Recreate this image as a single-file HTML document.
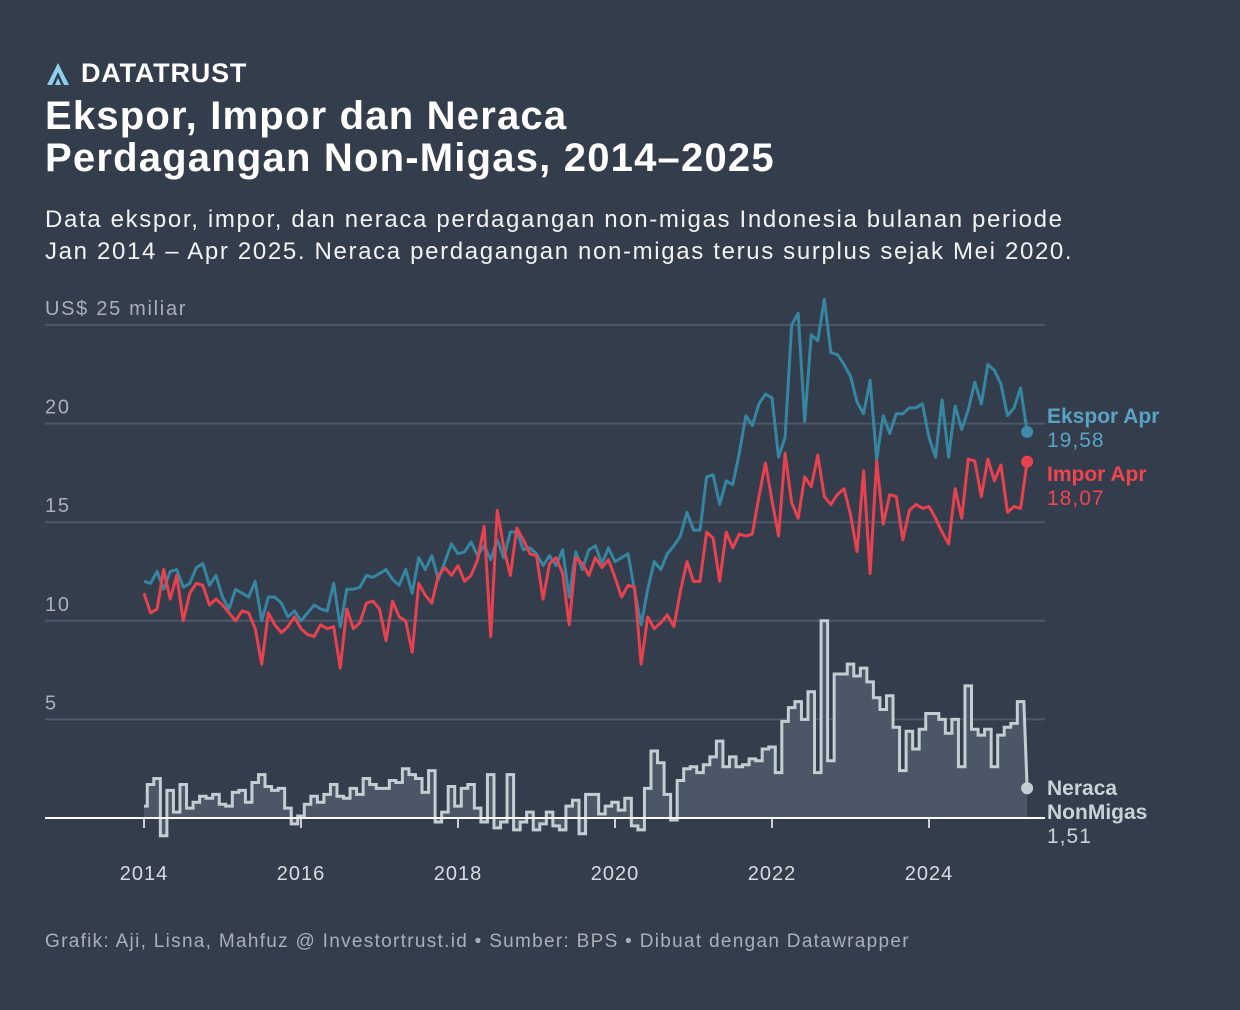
<!DOCTYPE html>
<html><head><meta charset="utf-8">
<style>
body{margin:0;background:#333d4c;width:1240px;height:1010px;overflow:hidden;font-family:"Liberation Sans",sans-serif;color:#fff}
.h{position:absolute;left:45px;white-space:nowrap}
</style></head><body>
<div class="h" style="top:58px;font-weight:bold;font-size:27px;color:#fff;display:flex;align-items:center;gap:10px;letter-spacing:0.8px">
<svg width="26" height="24" viewBox="0 0 26 24"><path d="M2 23 L13 1 L24 23 L19 23 L13 10 L7 23Z" fill="#8fd0ea"/><path d="M10 23 L13 16 L16 23Z" fill="#8fd0ea"/></svg>DATATRUST</div>
<div class="h" style="top:95px;font-weight:bold;font-size:40px;line-height:42px;letter-spacing:1.2px">Ekspor, Impor dan Neraca<br>Perdagangan Non-Migas, 2014–2025</div>
<div class="h" style="top:204px;font-size:24px;line-height:32px;color:#f2f2f2;letter-spacing:1.65px">Data ekspor, impor, dan neraca perdagangan non-migas Indonesia bulanan periode<br>Jan 2014 – Apr 2025. Neraca perdagangan non-migas terus surplus sejak Mei 2020.</div>
<svg id="c" width="1240" height="1010" style="position:absolute;left:0;top:0"></svg>
<div class="h" style="top:931px;font-size:19px;color:#aab0b8;letter-spacing:1.3px">Grafik: Aji, Lisna, Mahfuz @ Investortrust.id • Sumber: BPS • Dibuat dengan Datawrapper</div>
<script>
const ekspor=[12.0,11.9,12.5,11.6,12.5,12.6,11.7,11.9,12.7,12.9,11.8,12.3,
11.2,10.6,11.6,11.4,11.2,12.0,10.0,11.2,11.2,10.9,10.2,10.5,
10.0,10.4,10.8,10.6,10.5,11.9,9.7,11.6,11.6,11.7,12.3,12.2,
12.4,12.6,12.1,11.8,12.6,11.4,13.2,12.6,13.3,12.1,13.0,13.9,
13.4,13.5,14.0,13.3,13.8,13.1,14.1,13.2,14.5,14.5,13.6,13.7,
13.4,12.8,13.3,12.8,13.6,11.2,13.5,12.6,13.6,13.8,12.9,13.7,
13.0,13.2,13.4,11.5,9.8,11.6,13.0,12.6,13.4,13.8,14.3,15.5,
14.6,14.6,17.3,17.4,15.9,17.1,16.9,18.5,20.4,19.9,21.0,21.5,
21.3,18.3,19.3,25.0,25.6,20.1,24.5,24.2,26.3,23.6,23.5,23.0,
22.4,21.1,20.5,22.2,18.2,20.4,19.5,20.5,20.5,20.8,20.8,21.0,
19.3,18.3,21.2,18.3,20.9,19.7,20.7,22.1,21.0,23.0,22.7,22.0,
20.4,20.8,21.8,19.58];
const impor=[11.4,10.4,10.6,12.6,11.1,12.3,10.0,11.4,11.9,11.8,10.8,11.1,
10.8,10.4,10.0,10.5,10.4,9.6,7.8,10.4,9.8,9.4,9.7,10.2,
9.6,9.3,9.2,9.8,9.6,9.7,7.6,10.6,9.6,9.9,10.9,11.0,
10.6,9.0,11.0,10.2,10.0,8.4,11.9,11.3,10.9,12.3,12.7,12.3,
12.8,12.0,12.3,13.1,14.8,9.2,15.6,13.7,12.3,14.7,14.1,13.4,
13.3,11.1,12.9,13.2,12.4,9.8,13.2,12.9,12.3,13.2,12.7,13.1,
12.2,11.2,11.8,11.7,7.8,10.2,9.6,9.9,10.3,9.7,11.5,13.0,
12.0,12.0,14.5,14.2,12.0,14.5,13.7,14.4,14.3,14.4,16.3,18.0,
16.1,14.3,18.5,16.0,15.2,17.3,16.8,18.4,16.3,15.9,16.4,16.7,
15.4,13.5,17.6,12.4,18.1,14.9,16.4,16.3,14.1,15.6,15.9,15.7,
15.8,15.2,14.5,13.9,16.7,15.2,18.2,18.1,16.3,18.2,17.1,17.9,
15.5,15.8,15.7,18.07];
const neraca=[0.6,1.7,2.0,-0.9,1.4,0.3,1.7,0.5,0.8,1.1,1.0,1.2,
0.7,0.6,1.3,1.4,0.8,1.8,2.2,1.6,1.4,1.5,0.5,-0.3,
0.1,0.7,1.1,0.8,1.2,1.7,1.1,1.0,1.5,1.2,2.0,1.7,
1.5,1.5,1.9,1.8,2.5,2.2,2.0,1.3,2.4,-0.2,0.3,1.6,
0.6,1.5,1.7,0.5,-0.2,2.2,-0.5,-0.2,2.2,-0.6,-0.2,0.3,
-0.6,-0.3,0.3,-0.4,-0.6,0.6,0.9,-0.8,1.2,1.2,0.2,0.6,
0.8,0.4,1.0,-0.4,-0.6,1.5,3.4,2.8,1.2,-0.1,1.9,2.5,
2.6,2.3,2.7,3.1,3.9,2.6,3.1,2.6,2.7,3.0,2.9,3.5,
3.6,2.3,4.9,5.6,5.9,5.0,6.4,2.3,10.0,2.9,7.3,7.3,
7.8,7.2,7.6,6.9,6.1,5.5,6.2,4.6,2.4,4.4,3.5,4.5,
5.3,5.3,5.0,4.3,5.0,2.6,6.7,4.5,4.2,4.5,2.6,4.2,
4.6,4.8,5.9,1.51];
const startYear=2014, yTicks=[5,10,15,20,25], xTicks=[2014,2016,2018,2020,2022,2024];
const svg=document.getElementById('c'),NS='http://www.w3.org/2000/svg';
const X=i=>144+i*(78.5/12), Y=v=>818-v*19.72;
function mk(t,a,p){const e=document.createElementNS(NS,t);for(const k in a)e.setAttribute(k,a[k]);(p||svg).appendChild(e);return e;}
yTicks.forEach(v=>{
 const g=mk('line',{x1:45,x2:1045,y1:Y(v),y2:Y(v),stroke:'#4d5868','stroke-width':2});
 
 
 const t=mk('text',{x:45,y:Y(v)-10,fill:'#aab0b8','font-size':20,'font-family':'Liberation Sans','letter-spacing':1.7});
 t.textContent=v===25?'US$ 25 miliar':v;
 
 
});
xTicks.forEach(yr=>{
 const x=X((yr-startYear)*12);
 const l=mk('line',{x1:x,x2:x,y1:818,y2:828,stroke:'#fff','stroke-width':1.5});
 
 
 const t=mk('text',{x:x,y:880,fill:'#d8dce0','font-size':20,'text-anchor':'middle','font-family':'Liberation Sans','letter-spacing':1});
 t.textContent=yr;
 
 
});
let d='',n=neraca.length;
for(let i=0;i<n-1;i++){const x0=X(i-0.5<0?0:i-0.5),x1=X(Math.min(i+0.5,n-1));d+=(i?'L':'M')+x0+','+Y(neraca[i])+'L'+x1+','+Y(neraca[i]);}
d+='L'+X(n-1)+','+Y(neraca[n-1]);
const area=mk('path',{d:d+'L'+X(n-1)+','+Y(0)+'L'+X(0)+','+Y(0)+'Z',fill:'#4b5666'});


const nl=mk('path',{d:d,fill:'none',stroke:'#c3ced3','stroke-width':3});


const base=mk('line',{x1:45,x2:1045,y1:Y(0),y2:Y(0),stroke:'#fff','stroke-width':2});


function line(arr,col,name){const p=mk('path',{d:arr.map((v,i)=>(i?'L':'M')+X(i)+','+Y(v)).join(''),fill:'none',stroke:col,'stroke-width':3,'stroke-linejoin':'round'});
 
 }
line(ekspor,'#3686a2','ekspor-line');
line(impor,'#e8414f','impor-line');
function dot(v,col,name){const c=mk('circle',{cx:X(n-1),cy:Y(v),r:6,fill:col});
 
 }
dot(ekspor[n-1],'#3d8bab','ekspor-end-dot');dot(impor[n-1],'#e8414f','impor-end-dot');dot(neraca[n-1],'#c3ced3','neraca-end-dot');
function lab(y,lines,col,name){const t=mk('text',{x:1047,y:y,'font-size':21,'font-family':'Liberation Sans',fill:col});
 
 
 lines.forEach((s,i)=>{const ts=mk('tspan',{x:1047,dy:i?24:0,'font-weight':s[1]?'bold':'normal','letter-spacing':s[1]?'0':'1'},t);ts.textContent=s[0];});}
lab(423,[['Ekspor Apr',1],['19,58',0]],'#5ba3c4','ekspor-label');
lab(481,[['Impor Apr',1],['18,07',0]],'#f0444f','impor-label');
lab(795,[['Neraca',1],['NonMigas',1],['1,51',0]],'#c8d2d7','neraca-label');
</script>
</body></html>
